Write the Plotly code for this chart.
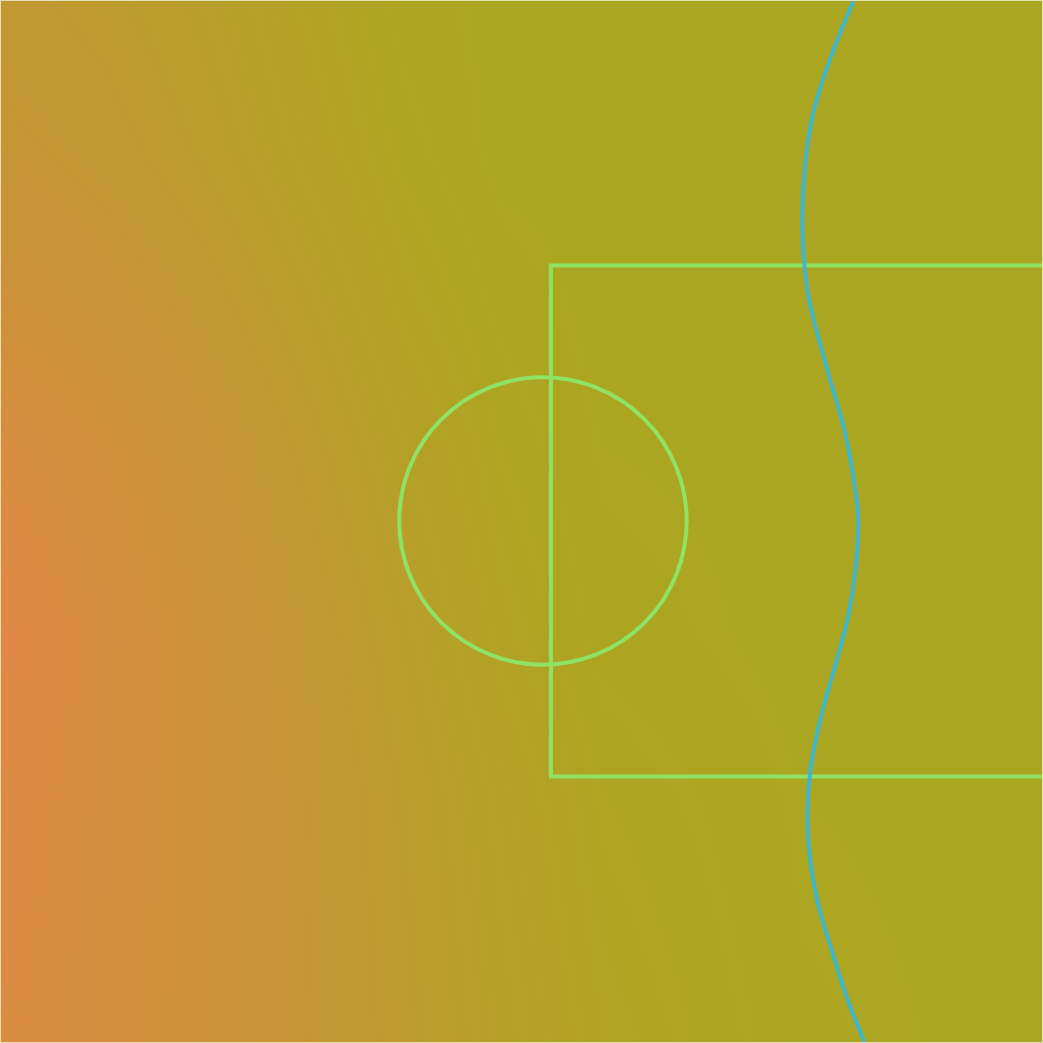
import plotly.graph_objects as go

# background field, sampled on a coarse grid (pixel-like units, y downwards)
grid_x = [0, 100, 200, 300, 400, 500, 600, 800, 1043]
grid_y = [0, 150, 300, 450, 640, 800, 1043]
field = [
    [0.42, 0.36, 0.26, 0.13, 0.03, 0.00, 0.00, 0.00, 0.00],
    [0.52, 0.44, 0.32, 0.18, 0.06, 0.00, 0.00, 0.00, 0.00],
    [0.66, 0.57, 0.44, 0.28, 0.12, 0.03, 0.00, 0.00, 0.00],
    [0.85, 0.72, 0.56, 0.38, 0.20, 0.07, 0.01, 0.00, 0.00],
    [1.00, 0.82, 0.64, 0.47, 0.28, 0.12, 0.03, 0.00, 0.00],
    [0.93, 0.80, 0.65, 0.50, 0.33, 0.18, 0.07, 0.01, 0.00],
    [0.88, 0.77, 0.64, 0.50, 0.36, 0.22, 0.11, 0.02, 0.00],
]

# blue wavy line
wave_x = [854, 830, 812, 803, 808, 828, 845, 856, 859, 856, 848, 836, 822,
          811, 808, 812, 820, 832, 848, 865]
wave_y = [0, 60, 120, 210, 290, 370, 430, 490, 520, 570, 620, 665, 715,
          770, 820, 870, 910, 950, 1000, 1043]

# box open to the right
box_x = [1060, 551, 551, 1060]
box_y = [265, 265, 777, 777]

# centre circle
circle_cx = 543
circle_cy = 521
circle_r = 144

fig = go.Figure()

fig.add_trace(go.Heatmap(
    x=grid_x,
    y=grid_y,
    z=field,
    zmin=0,
    zmax=1,
    zsmooth='best',
    colorscale=[[0, '#aba621'], [0.5, '#c59634'], [1, '#e08747']],
    showscale=False,
    hoverinfo='skip',
))

fig.add_trace(go.Scatter(
    x=box_x, y=box_y,
    mode='lines',
    line=dict(color='#8ee264', width=4),
    showlegend=False,
))

fig.add_trace(go.Scatter(
    x=wave_x, y=wave_y,
    mode='lines',
    line=dict(color='#3fb6c9', width=4, shape='spline'),
    showlegend=False,
))

fig.add_shape(
    type='circle',
    xref='x', yref='y',
    x0=circle_cx - circle_r, x1=circle_cx + circle_r,
    y0=circle_cy - circle_r, y1=circle_cy + circle_r,
    line=dict(color='#8ee264', width=4),
)

fig.update_xaxes(range=[0, 1043], visible=False)
fig.update_yaxes(range=[1043, 0], visible=False)
fig.update_layout(
    width=1043,
    height=1043,
    margin=dict(l=1, r=1, t=1, b=1),
    paper_bgcolor='#e4dfb4',
    plot_bgcolor='#aba621',
    showlegend=False,
)

# page has a default body margin, drop it so the figure fills the window
fig.write_html(
    "out.html",
    config={"displayModeBar": False},
    post_script="document.body.style.margin='0';",
)
